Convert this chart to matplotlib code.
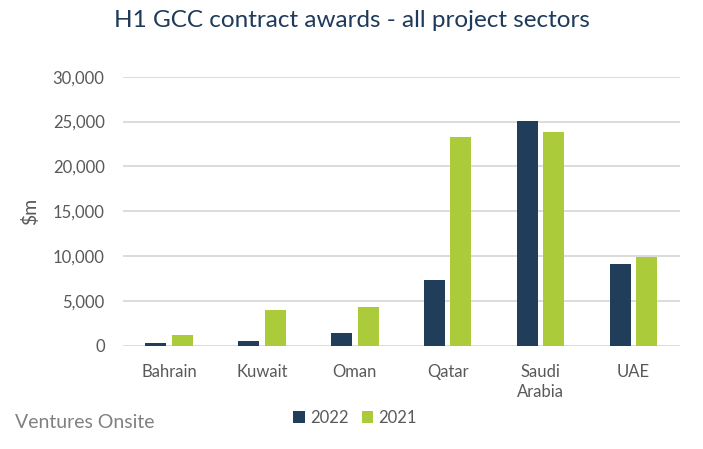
import matplotlib.pyplot as plt
import numpy as np

# данные
countries = ["Bahrain", "Kuwait", "Oman", "Qatar", "Saudi\nArabia", "UAE"]
awards_2022 = [300, 480, 1380, 7300, 25050, 9080]
awards_2021 = [1200, 3950, 4280, 23260, 23800, 9860]
yticks = [0, 5000, 10000, 15000, 20000, 25000, 30000]

plt.rcParams['font.family'] = ['Lato', 'DejaVu Sans']

fig = plt.figure(figsize=(7.03, 4.49), dpi=100)
ax = fig.add_axes([122.7 / 703, 1 - 345.7 / 449, 557.3 / 703, 269 / 449])

x = np.arange(len(countries))
w = 0.226
off = 0.142
ax.bar(x - off, awards_2022, width=w, color="#203D5A", label="2022", zorder=3)
ax.bar(x + off, awards_2021, width=w, color="#ACCB3B", label="2021", zorder=3)

ax.set_xlim(-0.5, len(countries) - 0.5)
ax.set_ylim(0, 30000)
ax.set_yticks(yticks)
ax.set_yticklabels([f"{v:,}" for v in yticks])
ax.set_xticks(x)
ax.set_xticklabels(countries, linespacing=1.35)
ax.grid(axis="y", color="#D9D9D9", linewidth=1.3, zorder=0)
for s in ax.spines.values():
    s.set_visible(False)
ax.tick_params(length=0, labelsize=12, colors="#595959")
ax.tick_params(axis="y", pad=13)
ax.tick_params(axis="x", pad=13)
ax.set_ylabel("$m", fontsize=14, color="#595959", labelpad=10)

fig.suptitle("H1 GCC contract awards - all project sectors", x=0.5, y=0.978,
             fontsize=17.5, color="#1F3A5A")

ax.legend(loc="center", bbox_to_anchor=(355 / 703, 1 - 418 / 449),
          bbox_transform=fig.transFigure, ncol=2, frameon=False,
          fontsize=12, labelcolor="#595959", handlelength=0.7,
          handleheight=0.7, handletextpad=0.3, columnspacing=0.8)

fig.text(15 / 703, 1 - 423 / 449, "Ventures Onsite", fontsize=14,
         color="#808080", va="center", ha="left")

plt.savefig("out.png", dpi=100)
plt.close()
